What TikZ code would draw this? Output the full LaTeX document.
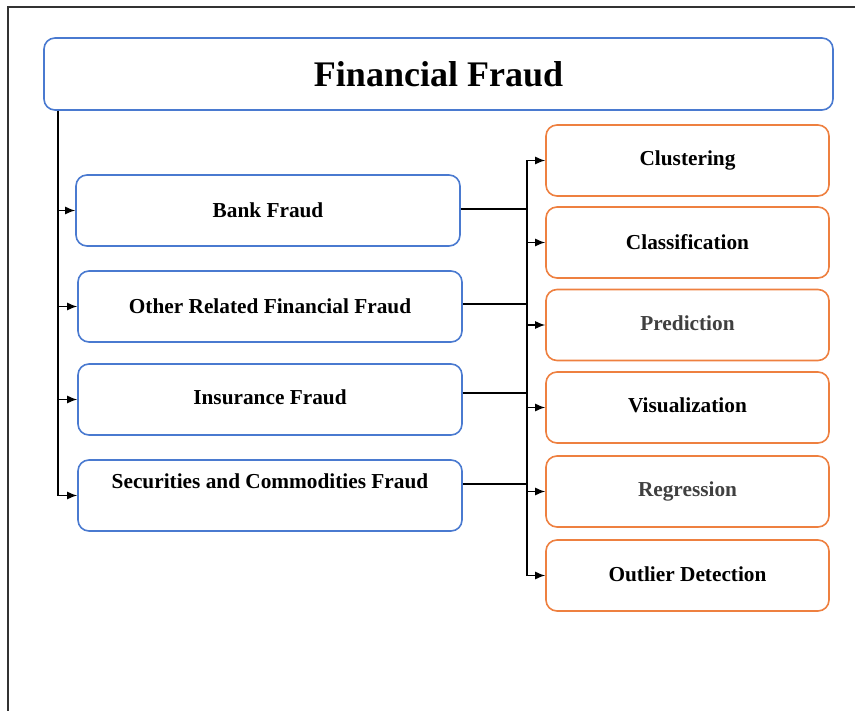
\documentclass[tikz,border=0pt]{standalone}
\usepackage{fontspec}
\setmainfont{Liberation Serif}
\usetikzlibrary{arrows.meta}
\definecolor{boxblue}{HTML}{4A7AD0}
\definecolor{boxorange}{HTML}{EE8040}
\definecolor{txtgray}{HTML}{404040}
\begin{document}
\begin{tikzpicture}[x=1pt,y=-1pt,
  bluebox/.style={draw=boxblue,line width=1.6pt,rounded corners=11pt,fill=white,
    inner sep=0pt,font=\fontsize{21.3}{25}\selectfont\bfseries},
  orangebox/.style={draw=boxorange,line width=1.6pt,rounded corners=11pt,fill=white,
    inner sep=0pt,minimum width=283pt,minimum height=71pt,font=\fontsize{21.3}{25}\selectfont\bfseries},
  conn/.style={line width=1.4pt,black},
  arr/.style={conn,-{Latex[length=10pt,width=8pt]}}]
\useasboundingbox (0,0) rectangle (855,711);
\draw[line width=1.2pt,black!80] (8,711) -- (8,7) -- (855,7);

\node[bluebox,minimum width=789pt,minimum height=72pt,font=\fontsize{36}{42}\selectfont\bfseries] (title) at (438.5,74) {Financial Fraud};

\node[bluebox,minimum width=384pt,minimum height=71pt] (bank) at (268,210.5) {Bank Fraud};
\node[bluebox,minimum width=384pt,minimum height=71pt] (other) at (270,306.5) {Other Related Financial Fraud};
\node[bluebox,minimum width=384pt,minimum height=71pt] (ins) at (270,399.5) {\raisebox{4pt}{Insurance Fraud}};
\node[bluebox,minimum width=384pt,minimum height=71pt] (sec) at (270,495.5) {\raisebox{28pt}{Securities and Commodities Fraud}};

\node[orangebox] (clus) at (687.5,160.5) {\raisebox{4pt}{Clustering}};
\node[orangebox] (class) at (687.5,242.5) {Classification};
\node[orangebox,text=txtgray] (pred) at (687.5,325) {\raisebox{3pt}{Prediction}};
\node[orangebox] (vis) at (687.5,407.5) {\raisebox{4pt}{Visualization}};
\node[orangebox,text=txtgray] (reg) at (687.5,491.5) {Regression};
\node[orangebox] (out) at (687.5,575.5) {\raisebox{2pt}{Outlier Detection}};

\coordinate (tl) at (58,0);
\coordinate (tr) at (527,0);

% left trunk
\draw[conn] (title.south -| tl) -- (tl |- sec.west);
\draw[arr] (tl |- bank.west) -- (bank.west);
\draw[arr] (tl |- other.west) -- (other.west);
\draw[arr] (tl |- ins.west) -- (ins.west);
\draw[arr] (title.south -| tl) |- (sec.west);

% right side
\draw[conn] ([yshift=1.5pt]bank.east) -- ([yshift=1.5pt]bank.east -| tr);
\draw[conn] ([yshift=2.5pt]other.east) -- ([yshift=2.5pt]other.east -| tr);
\draw[conn] ([yshift=6.5pt]ins.east) -- ([yshift=6.5pt]ins.east -| tr);
\draw[conn] ([yshift=11.5pt]sec.east) -- ([yshift=11.5pt]sec.east -| tr);
\draw[conn] (tr |- clus.west) -- (tr |- out.west);
\draw[arr] (tr |- clus.west) -- (clus.west);
\draw[arr] (tr |- class.west) -- (class.west);
\draw[arr] (tr |- pred.west) -- (pred.west);
\draw[arr] (tr |- vis.west) -- (vis.west);
\draw[arr] (tr |- reg.west) -- (reg.west);
\draw[arr] (tr |- out.west) -- (out.west);
\end{tikzpicture}
\end{document}
